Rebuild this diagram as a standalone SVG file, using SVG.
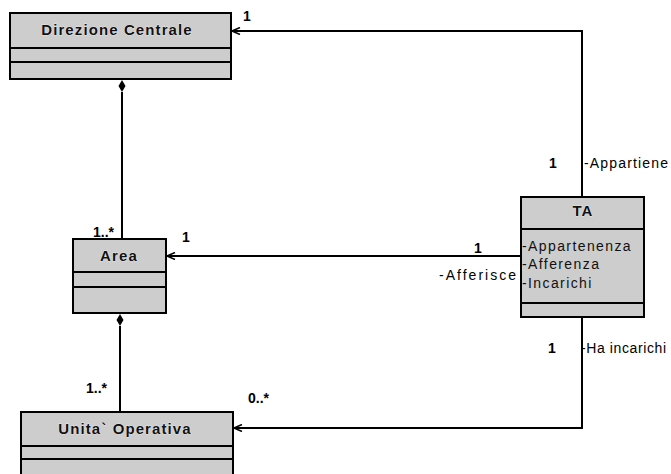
<svg xmlns="http://www.w3.org/2000/svg" width="671" height="474" viewBox="0 0 671 474">
<defs>
<marker id="arr" markerWidth="10" markerHeight="8" refX="9" refY="4" orient="auto" markerUnits="userSpaceOnUse">
<path d="M9,4 L1,0.5 M9,4 L1,7.5" fill="none" stroke="#000" stroke-width="1.5"/>
</marker>
</defs>
<style>
.box{fill:#cdcdcd;stroke:#000;stroke-width:2}
.sep{stroke:#000;stroke-width:2}
.title{font-family:"Liberation Sans",Arial,sans-serif;font-weight:bold;font-size:15px;letter-spacing:1.1px;fill:#111;text-anchor:middle;stroke:#fff;stroke-width:0.6;paint-order:stroke}
.attr{font-family:"Liberation Sans",Arial,sans-serif;font-size:14px;letter-spacing:1.4px;fill:#111}
.lbl{font-family:"Liberation Sans",Arial,sans-serif;font-size:14px;fill:#000}
.num{font-family:"Liberation Sans",Arial,sans-serif;font-size:14px;font-weight:bold;fill:#000}
.ln{fill:none;stroke:#000;stroke-width:2}
.dia{fill:#000}
</style>
<rect width="671" height="474" fill="#fff"/>
<g id="connectors">
<polyline class="ln" points="582,197 582,31 232,31" marker-end="url(#arr)"/>
<line class="ln" x1="521" y1="256" x2="167" y2="256" marker-end="url(#arr)"/>
<polyline class="ln" points="582,317 582,428 234,428" marker-end="url(#arr)"/>
<line class="ln" x1="122" y1="92" x2="122" y2="239"/>
<path class="dia" d="M122,80 L125.5,86 L122,92 L118.5,86 Z"/>
<line class="ln" x1="120" y1="326" x2="120" y2="412"/>
<path class="dia" d="M120,314 L123.5,320 L120,326 L116.5,320 Z"/>
<text class="num" x="243" y="21">1</text>
<text class="num" x="549" y="168">1</text>
<text class="lbl" x="584" y="168" textLength="84" lengthAdjust="spacing">-Appartiene</text>
<text class="num" x="93" y="237">1..*</text>
<text class="num" x="182" y="242">1</text>
<text class="num" x="474" y="253">1</text>
<text class="lbl" x="439" y="280" textLength="77" lengthAdjust="spacing">-Afferisce</text>
<text class="num" x="548" y="353">1</text>
<text class="lbl" x="581" y="353" textLength="85" lengthAdjust="spacing">-Ha incarichi</text>
<text class="num" x="86" y="393">1..*</text>
<text class="num" x="248" y="403">0..*</text>
</g>
<g id="direzione">
<rect class="box" x="10" y="13" width="221" height="66"/>
<line class="sep" x1="10" y1="48" x2="231" y2="48"/>
<line class="sep" x1="10" y1="62" x2="231" y2="62"/>
<text class="title" x="117" y="35">Direzione Centrale</text>
</g>
<g id="area">
<rect class="box" x="73" y="239" width="93" height="74"/>
<line class="sep" x1="73" y1="272" x2="166" y2="272"/>
<line class="sep" x1="73" y1="287" x2="166" y2="287"/>
<text class="title" x="119" y="261">Area</text>
</g>
<g id="unita">
<rect class="box" x="21" y="412" width="212" height="70"/>
<line class="sep" x1="21" y1="446" x2="233" y2="446"/>
<line class="sep" x1="21" y1="459" x2="233" y2="459"/>
<text class="title" x="125" y="434">Unita` Operativa</text>
</g>
<g id="ta">
<rect class="box" x="521" y="197" width="123" height="120"/>
<line class="sep" x1="521" y1="229" x2="644" y2="229"/>
<line class="sep" x1="521" y1="303" x2="644" y2="303"/>
<text class="title" x="583" y="216">TA</text>
<text class="attr" x="522" y="251">-Appartenenza</text>
<text class="attr" x="522" y="269">-Afferenza</text>
<text class="attr" x="522" y="288">-Incarichi</text>
</g>
</svg>
